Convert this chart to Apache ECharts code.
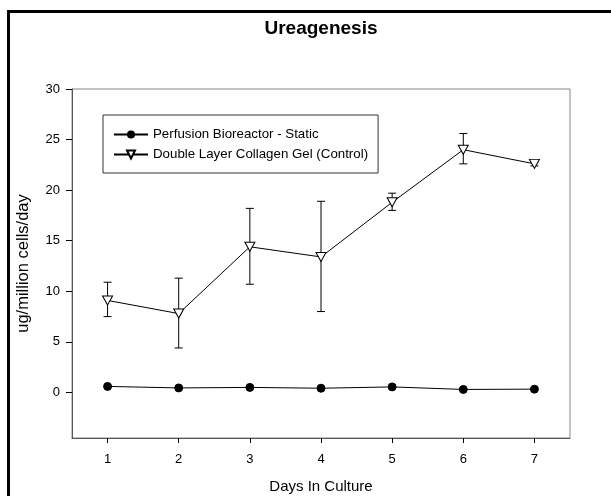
<!DOCTYPE html>
<html><head><meta charset="utf-8">
<script src="https://cdn.jsdelivr.net/npm/echarts@6/dist/echarts.min.js"></script>
<style>html,body{margin:0;padding:0;background:#fff}#c{width:611px;height:496px}</style>
</head><body><div id="c"></div>
<script>
const days = [1, 2, 3, 4, 5, 6, 7];
const perfusion = [0.6, 0.45, 0.5, 0.42, 0.55, 0.3, 0.33];
const control = [9.1, 7.8, 14.4, 13.4, 18.8, 24.0, 22.6];
const controlLow = [7.5, 4.4, 10.7, 8.0, 18.0, 22.6, 22.4];
const controlHigh = [10.9, 11.3, 18.2, 18.9, 19.7, 25.6, 22.8];
const yTicks = [0, 5, 10, 15, 20, 25, 30];
const xTicks = [1, 2, 3, 4, 5, 6, 7];
const seriesNames = ['Perfusion Bioreactor - Static', 'Double Layer Collagen Gel (Control)'];

const FONT = '"Liberation Sans", Arial, sans-serif';
const chart = echarts.init(document.getElementById('c'));
const errData = days.map((d, i) => [d, controlLow[i], controlHigh[i]]);

chart.setOption({
  animation: false,
  textStyle: { fontFamily: FONT },
  graphic: [
    { type: 'polyline', shape: { points: [[8.5, 600], [8.5, 11.5], [700, 11.5]] },
      style: { stroke: '#000', lineWidth: 3, fill: null }, z: 100 },
    { type: 'text', x: 321, y: 29,
      style: { text: 'Ureagenesis', font: 'bold 19px ' + FONT, fill: '#000', align: 'center', verticalAlign: 'middle' } }
  ],
  grid: { left: 72, top: 89, right: 41, bottom: 58, outerBoundsMode: 'none', containLabel: false,
          show: true, borderColor: '#888', borderWidth: 1, backgroundColor: 'transparent' },
  legend: {
    orient: 'vertical', left: 103, top: 115,
    padding: [13, 10, 12, 10], itemGap: 7, itemWidth: 34, itemHeight: 10,
    borderColor: '#333', borderWidth: 1,
    textStyle: { fontSize: 13.3, color: '#000', fontFamily: FONT },
    data: seriesNames
  },
  xAxis: {
    type: 'value', min: 0.5, max: 7.5,
    name: 'Days In Culture', nameLocation: 'middle', nameGap: 41,
    nameTextStyle: { fontSize: 15, color: '#000', fontFamily: FONT },
    axisLine: { onZero: false, lineStyle: { color: '#555', width: 1 } },
    axisTick: { customValues: xTicks, length: 5, lineStyle: { color: '#000' } },
    axisLabel: { customValues: xTicks, fontSize: 13, color: '#000', margin: 15 },
    splitLine: { show: false }
  },
  yAxis: {
    type: 'value', min: -4.5, max: 30,
    name: 'ug/million cells/day', nameLocation: 'middle', nameGap: 40,
    nameTextStyle: { fontSize: 16.5, color: '#000', fontFamily: FONT },
    axisLine: { show: true, onZero: false, lineStyle: { color: '#555', width: 1 } },
    axisTick: { show: true, customValues: yTicks, length: 6, lineStyle: { color: '#000' } },
    axisLabel: { customValues: yTicks, fontSize: 13, color: '#000', margin: 12 },
    splitLine: { show: false }
  },
  series: [
    {
      type: 'custom', name: 'err', silent: true, z: 1,
      data: errData,
      renderItem: function (params, api) {
        const x = api.value(0);
        const lo = api.coord([x, api.value(1)]);
        const hi = api.coord([x, api.value(2)]);
        const w = 4;
        const st = { stroke: '#000', lineWidth: 1 };
        return { type: 'group', children: [
          { type: 'line', shape: { x1: lo[0], y1: lo[1], x2: hi[0], y2: hi[1] }, style: st },
          { type: 'line', shape: { x1: lo[0] - w, y1: lo[1], x2: lo[0] + w, y2: lo[1] }, style: st },
          { type: 'line', shape: { x1: hi[0] - w, y1: hi[1], x2: hi[0] + w, y2: hi[1] }, style: st }
        ]};
      }
    },
    {
      name: seriesNames[0], type: 'line', z: 3,
      data: days.map((d, i) => [d, perfusion[i]]),
      symbol: 'circle', symbolSize: 8,
      lineStyle: { color: '#000', width: 1 },
      itemStyle: { color: '#000', borderColor: '#000' }
    },
    {
      name: seriesNames[1], type: 'line', z: 3,
      data: days.map((d, i) => [d, control[i]]),
      symbol: 'triangle', symbolSize: [10, 9], symbolRotate: 180,
      lineStyle: { color: '#000', width: 1 },
      itemStyle: { color: '#fff', borderColor: '#000', borderWidth: 1 }
    }
  ]
});
</script></body></html>
